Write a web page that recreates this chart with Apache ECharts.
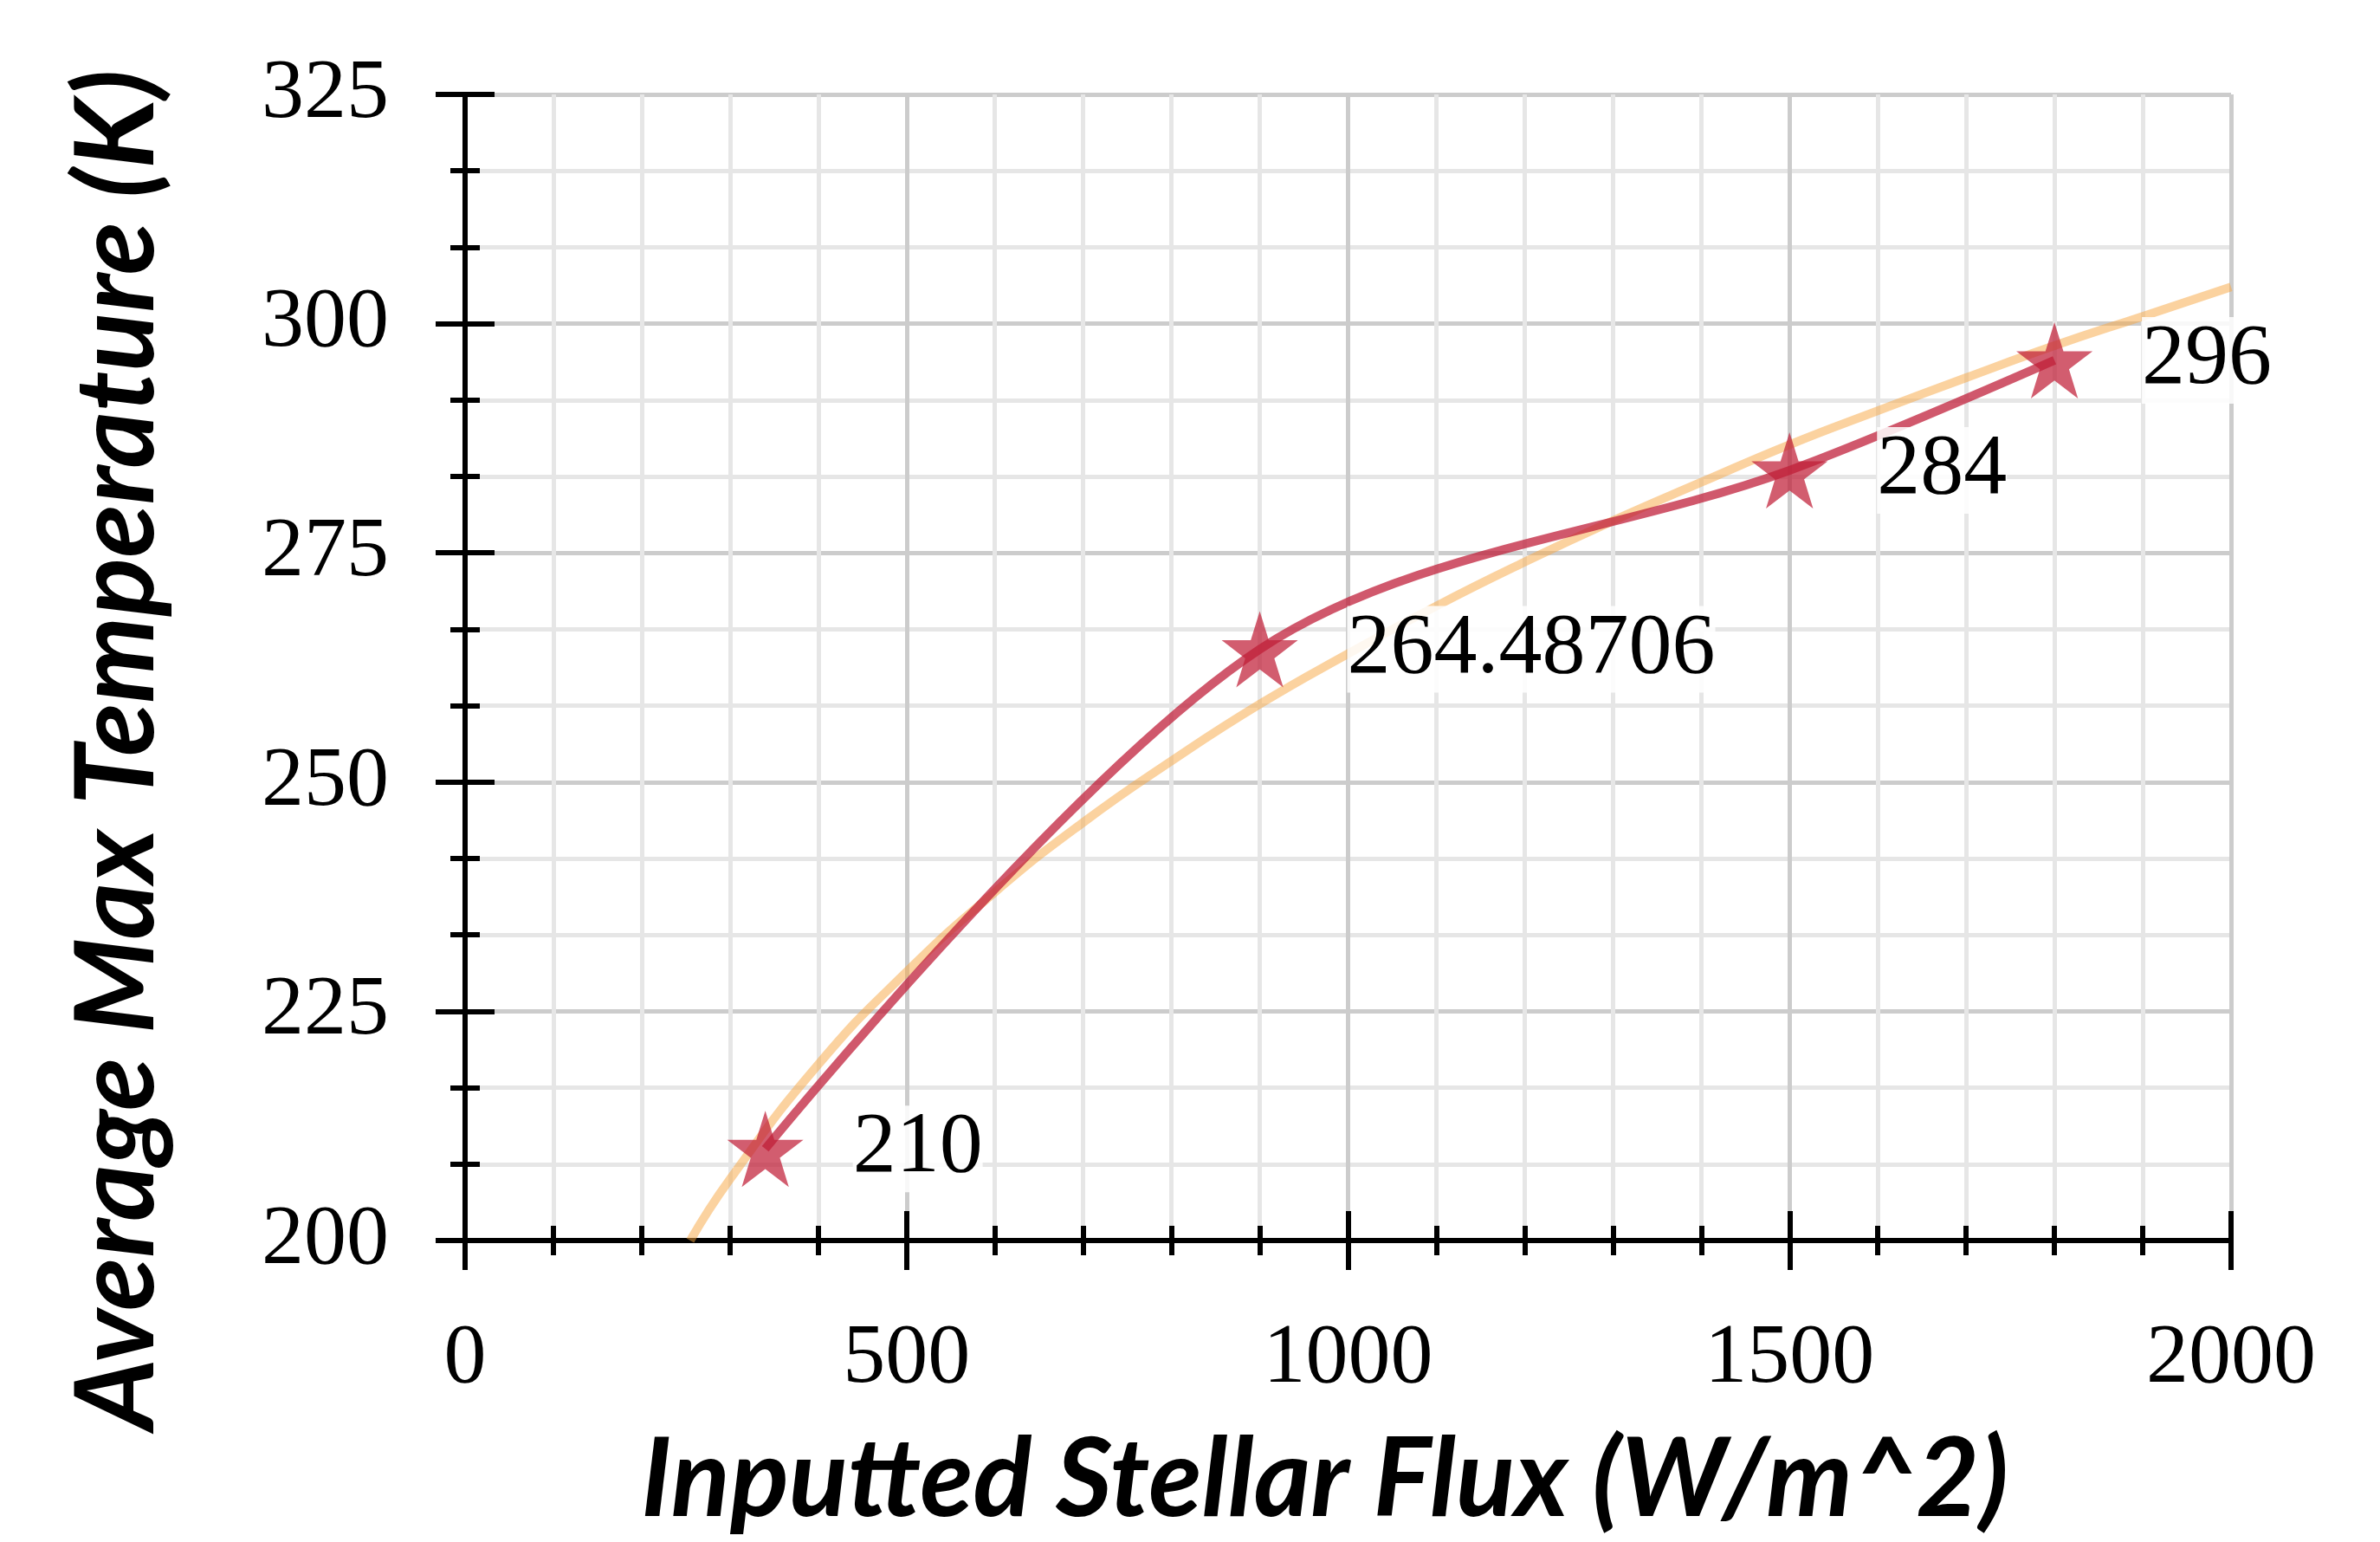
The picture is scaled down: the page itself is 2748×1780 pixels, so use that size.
<!DOCTYPE html>
<html>
<head>
<meta charset="utf-8">
<script src="https://cdn.jsdelivr.net/npm/echarts@6/dist/echarts.min.js"></script>
<style>
  html, body { margin: 0; padding: 0; background: #fff; }
  #chart { width: 2748px; height: 1780px; }
</style>
</head>
<body>
<div id="chart"></div>
<script>
// measured points
const fluxValues = [340, 900, 1500, 1800];
const tempValues = [210, 264.48706, 284, 296];

// orange trend curve
const trendFlux = [255, 300, 400, 500, 600, 700, 800, 900, 1000, 1100, 1200, 1300, 1400, 1500, 1600, 1700, 1800, 1900, 2000];
const trendTemp = [200, 206.7, 219.2, 229.3, 238.0, 245.6, 252.3, 258.5, 264.0, 269.2, 274.0, 278.5, 282.7, 286.8, 290.5, 294.1, 297.6, 300.8, 304.0];

const xName = 'Inputted Stellar Flux (W/m^2)';
const yName = 'Average Max Temperature (K)';

const chart = echarts.init(document.getElementById('chart'));

const tickFont = { fontFamily: 'Liberation Serif', fontSize: 98, color: '#000' };
const nameFont = { fontFamily: 'Lato', fontWeight: 'bold', fontStyle: 'italic', fontSize: 126, color: '#000' };

const axisBase = {
  type: 'value',
  axisLine: { show: true, lineStyle: { color: '#000', width: 6 } },
  axisTick: { show: true, length: 34, lineStyle: { color: '#000', width: 6 } },
  minorTick: { show: true, length: 17, lineStyle: { color: '#000', width: 6 } }
};

chart.setOption({
  animation: false,
  grid: { left: 537, right: 172, top: 109, bottom: 348, containLabel: false },
  xAxis: [
    Object.assign({}, axisBase, {
      min: 0, max: 2000, interval: 500,
      position: 'bottom',
      minorTick: Object.assign({}, axisBase.minorTick, { splitNumber: 5 }),
      axisLabel: Object.assign({ margin: 88, formatter: v => String(v) }, tickFont),
      splitLine: { show: true, lineStyle: { color: '#cccccc', width: 5 } },
      minorSplitLine: { show: true, lineStyle: { color: '#e6e6e6', width: 5 } },
      name: xName,
      nameLocation: 'middle',
      nameGap: 214,
      nameTextStyle: Object.assign({ padding: [0, 54, 0, 0] }, nameFont)
    }),
    Object.assign({}, axisBase, {
      min: 0, max: 2000, interval: 500,
      position: 'bottom',
      axisLine: { show: false },
      axisTick: Object.assign({}, axisBase.axisTick, { inside: true }),
      minorTick: Object.assign({}, axisBase.minorTick, { splitNumber: 5 }),
      axisLabel: { show: false },
      splitLine: { show: false }
    })
  ],
  yAxis: [
    Object.assign({}, axisBase, {
      min: 200, max: 325, interval: 25,
      position: 'left',
      minorTick: Object.assign({}, axisBase.minorTick, { splitNumber: 3 }),
      axisLabel: Object.assign({ margin: 88 }, tickFont),
      splitLine: { show: true, lineStyle: { color: '#cccccc', width: 5 } },
      minorSplitLine: { show: true, lineStyle: { color: '#e6e6e6', width: 5 } },
      name: yName,
      nameLocation: 'middle',
      nameGap: 338,
      nameTextStyle: Object.assign({ padding: [0, 190, 0, 0] }, nameFont)
    }),
    Object.assign({}, axisBase, {
      min: 200, max: 325, interval: 25,
      position: 'left',
      axisLine: { show: false },
      axisTick: Object.assign({}, axisBase.axisTick, { inside: true }),
      minorTick: Object.assign({}, axisBase.minorTick, { splitNumber: 3 }),
      axisLabel: { show: false },
      splitLine: { show: false }
    })
  ],
  series: [
    {
      name: 'Trend',
      type: 'line',
      data: trendFlux.map((x, i) => [x, trendTemp[i]]),
      smooth: true,
      showSymbol: false,
      silent: true,
      z: 2,
      lineStyle: { color: 'rgba(247,165,64,0.5)', width: 10 }
    },
    {
      name: 'Max temperature',
      type: 'line',
      data: fluxValues.map((x, i) => [x, tempValues[i]]),
      smooth: 0.33,
      symbol: 'path://M50,0 L61.8,36.2 L100,36.2 L69.1,58.8 L80.9,95.1 L50,72.7 L19.1,95.1 L30.9,58.8 L0,36.2 L38.2,36.2 Z',
      symbolSize: 88,
      z: 3,
      itemStyle: { color: 'rgba(192,30,56,0.72)' },
      lineStyle: { color: 'rgba(192,30,56,0.74)', width: 10 },
      label: {
        show: true,
        position: 'right',
        distance: 57,
        formatter: p => String(p.value[1]),
        fontFamily: 'Liberation Serif',
        fontSize: 100,
        color: '#000',
        backgroundColor: 'rgba(255,255,255,0.85)'
      }
    }
  ]
});
</script>
</body>
</html>
